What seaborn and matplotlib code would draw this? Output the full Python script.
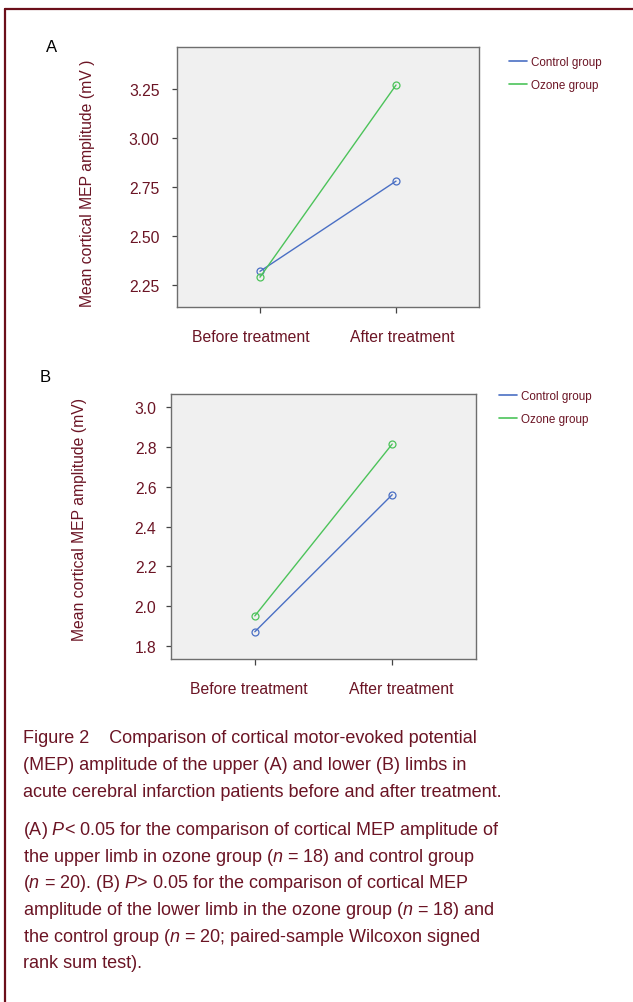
import numpy as np
import pandas as pd
import matplotlib
matplotlib.use("Agg")
import matplotlib.pyplot as plt
from matplotlib.lines import Line2D
from matplotlib.transforms import ScaledTranslation
import seaborn as sns
from matplotlib import font_manager as fm

# ---- data ----
times = ["Before treatment", "After treatment"]
groups = ["Control group", "Ozone group"]
upper_control = [2.32, 2.78]
upper_ozone = [2.29, 3.27]
lower_control = [1.87, 2.56]
lower_ozone = [1.95, 2.815]
upper_ticks = [2.25, 2.50, 2.75, 3.00, 3.25]
lower_ticks = [1.8, 2.0, 2.2, 2.4, 2.6, 2.8, 3.0]

sns.set_theme(style="white")
names = {f.name for f in fm.fontManager.ttflist}
narrow = "Liberation Sans Narrow" if "Liberation Sans Narrow" in names else "Liberation Sans"
plt.rcParams["font.family"] = ["Liberation Sans", "DejaVu Sans"]
plt.rcParams["mathtext.fontset"] = "custom"
plt.rcParams["mathtext.rm"] = narrow
plt.rcParams["mathtext.it"] = narrow + ":italic"

TXT = "#6b1424"
palette = {"Control group": "#4a6fc4", "Ozone group": "#4cc35a"}

def make_df(ctrl, ozn):
    return pd.DataFrame({
        "time": times * 2,
        "value": list(ctrl) + list(ozn),
        "group": [groups[0]] * 2 + [groups[1]] * 2,
    })

fig = plt.figure(figsize=(6.33, 10.03), dpi=100)
W, H = 633, 1003

def px_axes(l, t, r, b):
    return fig.add_axes([l / W, 1 - b / H, (r - l) / W, (b - t) / H])

def style(ax, ylim, ticks, fmt, ylab, lab_x, lab_y, ypad, xoffs):
    ax.set_facecolor("#f0f0f0")
    for s in ax.spines.values():
        s.set_color("#6e6e6e")
        s.set_linewidth(1.0)
    ax.set_xlim(-0.61, 1.61)
    ax.set_ylim(*ylim)
    ax.set_yticks(ticks)
    ax.set_yticklabels([fmt.format(t) for t in ticks])
    ax.tick_params(axis="y", left=True, length=3.5, width=0.9, color="#444444",
                   pad=ypad, labelsize=11.3, labelcolor=TXT)
    ax.tick_params(axis="x", bottom=True, length=4.5, width=0.9, color="#444444",
                   pad=11, labelsize=11.3, labelcolor=TXT)
    for lab, dx in zip(ax.get_xticklabels(), xoffs):
        lab.set_transform(lab.get_transform() +
                          ScaledTranslation(dx / 100, 0, fig.dpi_scale_trans))
    ax.set_xlabel("")
    ax.set_ylabel(ylab, fontsize=11.3, color=TXT)
    ax.yaxis.set_label_coords(lab_x, lab_y)
    if ax.get_legend() is not None:
        ax.get_legend().remove()

# Panel A
axA = px_axes(177, 48, 479, 308)
sns.lineplot(data=make_df(upper_control, upper_ozone), x="time", y="value",
             hue="group", palette=palette, marker="o", markersize=5,
             markerfacecolor="none", markeredgewidth=0.9, linewidth=1.0,
             ax=axA, sort=False)
for ln, c in zip(axA.lines, palette.values()):
    ln.set_markeredgecolor(c)
style(axA, (2.138, 3.464), upper_ticks, "{:.2f}",
      "Mean cortical MEP amplitude (mV )", -0.272, 0.48, 9, (-9.5, 6))

# Panel B
axB = px_axes(171, 395, 476, 660)
sns.lineplot(data=make_df(lower_control, lower_ozone), x="time", y="value",
             hue="group", palette=palette, marker="o", markersize=5,
             markerfacecolor="none", markeredgewidth=0.9, linewidth=1.0,
             ax=axB, sort=False)
for ln, c in zip(axB.lines, palette.values()):
    ln.set_markeredgecolor(c)
style(axB, (1.733, 3.067), lower_ticks, "{:.1f}",
      "Mean cortical MEP amplitude (mV)", -0.275, 0.53, 7, (-5.5, 9))

# legends
handles = [Line2D([], [], color=palette[g], lw=1.2) for g in groups]
for (x0, y0) in [(509, 57), (499, 391)]:
    fig.legend(handles, groups, loc="upper left",
               bbox_to_anchor=(x0 / W, 1 - y0 / H), frameon=False,
               fontsize=8.4, handlelength=1.5, handletextpad=0.35,
               labelspacing=0.95, borderpad=0, borderaxespad=0,
               labelcolor=TXT)

# panel letters
fig.text(46 / W, 1 - 47 / H, "A", fontsize=12, color="black", va="center")
fig.text(40 / W, 1 - 378 / H, "B", fontsize=12, color="black", va="center")

# caption
cap = [
    (743, "Figure 2    Comparison of cortical motor-evoked potential"),
    (770, "(MEP) amplitude of the upper (A) and lower (B) limbs in"),
    (797, "acute cerebral infarction patients before and after treatment."),
    (835, "(A) $P$< 0.05 for the comparison of cortical MEP amplitude of"),
    (862, "the upper limb in ozone group ($n$ = 18) and control group"),
    (888, "($n$ = 20). (B) $P$> 0.05 for the comparison of cortical MEP"),
    (915, "amplitude of the lower limb in the ozone group ($n$ = 18) and"),
    (942, "the control group ($n$ = 20; paired-sample Wilcoxon signed"),
    (968, "rank sum test)."),
]
capsize = 15.5 if narrow != "Liberation Sans" else 13.0
for yb, s in cap:
    fig.text(23 / W, 1 - yb / H, s, fontsize=capsize, color=TXT,
             family=[narrow, "DejaVu Sans"], va="baseline", ha="left")

# outer border (top and left)
bc = "#6b0f1a"
fig.add_artist(Line2D([4.5 / W, 4.5 / W], [0, 1 - 9.5 / H], color=bc, lw=1.6,
                      transform=fig.transFigure))
fig.add_artist(Line2D([4.5 / W, 1], [1 - 9.5 / H, 1 - 9.5 / H], color=bc, lw=1.6,
                      transform=fig.transFigure))

fig.savefig("out.png", dpi=100)
